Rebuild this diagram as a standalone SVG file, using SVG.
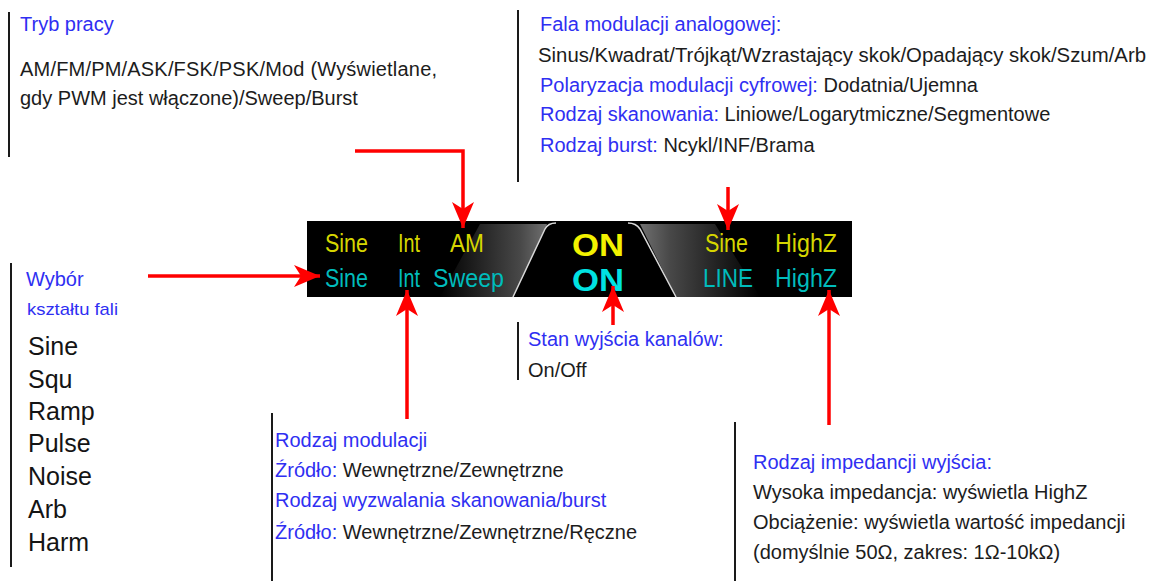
<svg xmlns="http://www.w3.org/2000/svg" width="1149" height="581" viewBox="0 0 1149 581">
<defs>
<style>
text{font-family:"Liberation Sans",Arial,sans-serif}
.b{fill:#2f2ff2;font-size:20px}
.k{fill:#1c1c1c;font-size:20px}
.w{fill:#141414;font-size:25px}
.bl{stroke:#1a1a1a;stroke-width:2;fill:none}
.r{stroke:#ff0000;stroke-width:3.5;fill:none;marker-end:url(#ah)}
.y{fill:#d6d600;font-size:25px}
.c{fill:#00bcbc;font-size:25px}
.yo{fill:#f2f200;font-size:31px;font-weight:bold}
.co{fill:#00e2e2;font-size:31px;font-weight:bold}
</style>
<marker id="ah" markerWidth="30" markerHeight="24" refX="26" refY="11" orient="auto" markerUnits="userSpaceOnUse">
<path d="M0,0 L26,11 L0,22 L7,11 Z" fill="#ff0000"/>
</marker>
<linearGradient id="gl" x1="1" y1="0" x2="0" y2="0">
<stop offset="0" stop-color="#8c8c8c"/>
<stop offset="0.25" stop-color="#5a5a5a"/>
<stop offset="1" stop-color="#000"/>
</linearGradient>
<linearGradient id="gr" x1="0" y1="0" x2="1" y2="0">
<stop offset="0" stop-color="#8c8c8c"/>
<stop offset="0.25" stop-color="#5a5a5a"/>
<stop offset="1" stop-color="#000"/>
</linearGradient>
</defs>
<rect width="1149" height="581" fill="#fff"/>

<g id="display">
<rect x="307" y="221" width="545" height="76" fill="#000"/>
<polygon points="440,297 513,297 547,224 480,224" fill="url(#gl)" opacity="0.8"/>
<polygon points="640,224 715,224 760,297 676,297" fill="url(#gr)" opacity="0.8"/>
<path d="M513,297 L545,229 Q548,223 556,223 L628,223 Q636,223 640,229 L676,297 Z" fill="#000"/>
<path d="M513,297 L545,229 Q548,223 556,223 M628,223 Q636,223 640,229 L676,297" stroke="#d8d8d8" stroke-width="1.5" fill="none"/>
<text class="y" x="325" y="252" textLength="43" lengthAdjust="spacingAndGlyphs">Sine</text>
<text class="y" x="398" y="252" textLength="22" lengthAdjust="spacingAndGlyphs">Int</text>
<text class="y" x="450" y="252" textLength="34" lengthAdjust="spacingAndGlyphs">AM</text>
<text class="c" x="325" y="287" textLength="43" lengthAdjust="spacingAndGlyphs">Sine</text>
<text class="c" x="398" y="287" textLength="22" lengthAdjust="spacingAndGlyphs">Int</text>
<text class="c" x="433" y="287" textLength="71" lengthAdjust="spacingAndGlyphs">Sweep</text>
<text class="yo" x="572" y="256" textLength="52" lengthAdjust="spacingAndGlyphs">ON</text>
<text class="co" x="572" y="291" textLength="52" lengthAdjust="spacingAndGlyphs">ON</text>
<text class="y" x="705" y="252" textLength="43" lengthAdjust="spacingAndGlyphs">Sine</text>
<text class="y" x="775" y="252" textLength="62" lengthAdjust="spacingAndGlyphs">HighZ</text>
<text class="c" x="703" y="287" textLength="50" lengthAdjust="spacingAndGlyphs">LINE</text>
<text class="c" x="775" y="287" textLength="62" lengthAdjust="spacingAndGlyphs">HighZ</text>
</g>

<g id="tryb">
<line class="bl" x1="9" y1="12" x2="9" y2="157"/>
<text class="b" x="20" y="31">Tryb pracy</text>
<text class="k" x="20" y="76" textLength="417">AM/FM/PM/ASK/FSK/PSK/Mod (Wyświetlane,</text>
<text class="k" x="20" y="105">gdy PWM jest włączone)/Sweep/Burst</text>
</g>

<g id="fala">
<line class="bl" x1="518" y1="10" x2="518" y2="182"/>
<text class="b" x="540" y="31">Fala modulacji analogowej:</text>
<text class="k" x="538" y="62" textLength="608" lengthAdjust="spacingAndGlyphs">Sinus/Kwadrat/Trójkąt/Wzrastający skok/Opadający skok/Szum/Arb</text>
<text class="k" x="540" y="92"><tspan class="b">Polaryzacja modulacji cyfrowej:</tspan> Dodatnia/Ujemna</text>
<text class="k" x="540" y="121"><tspan class="b">Rodzaj skanowania:</tspan> Liniowe/Logarytmiczne/Segmentowe</text>
<text class="k" x="540" y="152"><tspan class="b">Rodzaj burst:</tspan> Ncykl/INF/Brama</text>
</g>

<g id="wybor">
<line class="bl" x1="11" y1="263" x2="11" y2="567"/>
<text class="b" x="26" y="286">Wybór</text>
<text class="b" x="27" y="315" style="font-size:17px" textLength="91" lengthAdjust="spacingAndGlyphs">kształtu fali</text>
<text class="w" x="28" y="355">Sine</text>
<text class="w" x="28" y="388">Squ</text>
<text class="w" x="28" y="420">Ramp</text>
<text class="w" x="28" y="452">Pulse</text>
<text class="w" x="28" y="485">Noise</text>
<text class="w" x="28" y="518">Arb</text>
<text class="w" x="28" y="551">Harm</text>
</g>

<g id="stan">
<line class="bl" x1="518" y1="322" x2="518" y2="380"/>
<text class="b" x="528" y="346">Stan wyjścia kanalów:</text>
<text class="k" x="528" y="377">On/Off</text>
</g>

<g id="modulacja">
<line class="bl" x1="272" y1="413" x2="272" y2="581"/>
<text class="b" x="275" y="447">Rodzaj modulacji</text>
<text class="k" x="275" y="477"><tspan class="b">Źródło:</tspan> Wewnętrzne/Zewnętrzne</text>
<text class="b" x="275" y="507">Rodzaj wyzwalania skanowania/burst</text>
<text class="k" x="275" y="539"><tspan class="b">Źródło:</tspan> Wewnętrzne/Zewnętrzne/Ręczne</text>
</g>

<g id="impedancja">
<line class="bl" x1="735" y1="422" x2="735" y2="581"/>
<text class="b" x="753" y="469">Rodzaj impedancji wyjścia:</text>
<text class="k" x="753" y="499">Wysoka impedancja: wyświetla HighZ</text>
<text class="k" x="753" y="529">Obciążenie: wyświetla wartość impedancji</text>
<text class="k" x="753" y="559">(domyślnie 50Ω, zakres: 1Ω-10kΩ)</text>
</g>

<g id="connectors">
<path class="r" d="M355,151 L463,151 L463,228"/>
<path class="r" d="M728,187 L728,230"/>
<path class="r" d="M148,276 L320,276"/>
<path class="r" d="M407,419 L407,290"/>
<path class="r" d="M613,325 L613,286"/>
<path class="r" d="M829,425 L829,290"/>
</g>
</svg>
